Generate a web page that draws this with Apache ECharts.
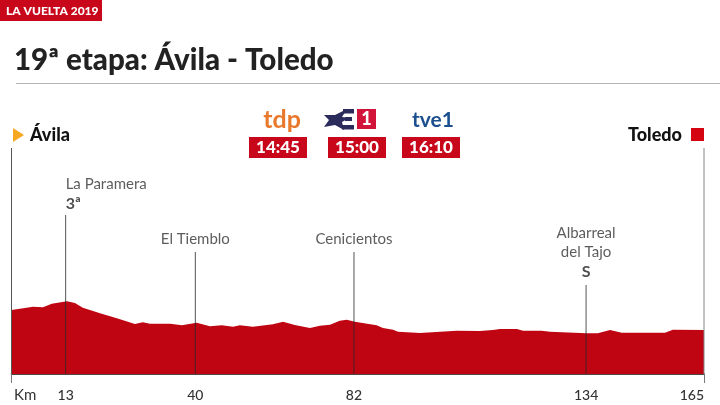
<!DOCTYPE html>
<html><head><meta charset="utf-8">
<style>html,body{margin:0;padding:0;background:#fff}#c{width:720px;height:405px}</style>
<script src="https://cdn.jsdelivr.net/npm/echarts@6/dist/echarts.min.js"></script>
</head><body><div id="c"></div>
<script>
// Profile (horizontal position in km-like units, height in relative units)
const profileKm = [0,3.6,5.1,7.5,9.6,13.2,15.1,17,21.1,25.1,29.4,31.3,33,37.8,40.6,44.1,47.3,50.1,52.8,54.4,57.5,62.3,64.7,67.5,71.1,73.5,75.9,78.2,79.9,81.8,87,88.5,90.9,92.1,97.3,106.1,111.6,114.7,116.4,120.4,121.9,126.3,128.3,137,139.7,142.6,145.4,155.7,157.6,165];
const profileHeight = [640,663,673,667,703,727,710,663,607,557,500,517,503,503,487,513,477,487,473,487,473,497,523,490,460,483,493,533,543,523,487,460,443,423,410,433,430,440,450,450,433,433,423,407,407,440,413,413,443,440];
const markerPos = [12.9,43.8,81.6,136.9];
const markerTop = [1590,1220,1220,890];
const markerNames = ['La Paramera','El Tiemblo','Cenicientos','Albarreal\ndel Tajo'];
const markerCategory = ['3ª','','','S'];
const tickPos = [12.9,43.8,81.6,136.9,165];
const tickLabels = ['13','40','82','134','165'];
const edgePos = [0,165];
const edgeTop = 2260;
const broadcasters = ['tdp','','tve1'];
const times = ['14:45','15:00','16:10'];
const FONT = 'Lato';
const RED = '#c8071a';

const chart = echarts.init(document.getElementById('c'));

function lineSeries(x, top, color){
  return {type:'line',silent:true,symbol:'none',z:5,clip:false,animation:false,
    lineStyle:{color:color,width:1},
    data:[[x,0],[x,top]]};
}
const series = [{
  type:'line',silent:true,symbol:'none',z:2,animation:false,
  lineStyle:{width:0},areaStyle:{color:'#bf0512',opacity:1},
  data:profileKm.map((k,i)=>[k,profileHeight[i]])
}];
markerPos.forEach((p,i)=>series.push(lineSeries(p,markerTop[i],'rgba(40,40,40,.8)')));
edgePos.forEach((p,i)=>series.push(lineSeries(p,edgeTop,i===0?'#555':'#888')));
series.push({
  type:'scatter',silent:true,z:6,animation:false,symbolSize:1,
  itemStyle:{color:'rgba(0,0,0,0)'},
  labelLayout:{hideOverlap:false},
  data:markerPos.map((p,i)=>{
    const nameLines = markerNames[i].split('\n').map(s=>'{n|'+s+'}');
    const txt = nameLines.concat(markerCategory[i]?['{c|'+markerCategory[i]+'}']:[]).join('\n');
    return {value:[p,markerTop[i]],label:{
      show:true,position:'top',distance:i===0?1:3,
      align:i===0?'left':'center',offset:i===0?[-8,0]:[-2,0],
      formatter:txt,
      rich:{n:{fontFamily:FONT,fontSize:15,color:'#333',lineHeight:19},
            c:{fontFamily:FONT,fontSize:16,fontWeight:700,color:'#222',lineHeight:20}}
    }};
  })
});

const g = [];
function text(t,x,y,size,color,weight,align,font){
  g.push({type:'text',x:x,y:y,silent:true,style:{text:t,fontFamily:font||FONT,fontSize:size,fontWeight:weight||400,fill:color,align:align||'left',verticalAlign:'middle'}});
}
function rect(x,y,w,h,c){g.push({type:'rect',silent:true,shape:{x:x,y:y,width:w,height:h},style:{fill:c}});}
rect(0,0,102,21,RED);
text('LA VUELTA 2019',6,11.5,12,'#fff',900);
text('19ª etapa: Ávila - Toledo',14,60,29.5,'#222',900);
rect(16,83,704,1,'#b5b5b5');
g.push({type:'polygon',silent:true,shape:{points:[[13,128],[24,135],[13,142]]},style:{fill:'#f7a823'}});
text('Ávila',30,135,18,'#111',900);
text('Toledo',682,135,18,'#111',900,'right');
rect(691,128,13,13,'#d40511');
// broadcasters
text(broadcasters[0],282,120,25,'#e8792c',700,'center');
text(broadcasters[2],433,120,21,'#1b4f8e',700,'center');
// E1 logo
g.push({type:'polygon',silent:true,shape:{points:[[347,109],[342,117],[349,118],[342,122],[344,130],[335,125],[324,127],[329,120],[324,115],[335,115]]},style:{fill:'#2b2b5c'}});
rect(343,109,11,4.5,'#2b2b5c');rect(345,117,7,4,'#2b2b5c');rect(342,125,12,4.5,'#2b2b5c');
rect(357,109,19,20,'#d3143a');
text('1',366.5,119,18,'#fff',900,'center');
[249,328,402].forEach((x,i)=>{
  rect(x,137,58,21,RED);
  text(times[i],x+29,147.5,17,'#fff',900,'center');
});
text('Km',14,395,15,'#333',400);

chart.setOption({
  backgroundColor:'#fff',animation:false,
  grid:{left:11.5,width:692.5,top:94,height:280,containLabel:false},
  xAxis:{type:'value',min:0,max:165,splitLine:{show:false},
    axisLine:{show:true,lineStyle:{color:'#1a0a0a',width:1.5}},
    axisTick:{show:true,customValues:edgePos,length:9,lineStyle:{color:'#777',width:1}},
    axisLabel:{show:true,customValues:tickPos,margin:14,alignMaxLabel:'right',fontFamily:FONT,fontSize:14,fontWeight:500,color:'#333',
      formatter:v=>{const i=tickPos.indexOf(v);return i>=0?tickLabels[i]:'';}}},
  yAxis:{type:'value',min:0,max:2800,show:false},
  series:series,
  graphic:{elements:g}
});
</script></body></html>
